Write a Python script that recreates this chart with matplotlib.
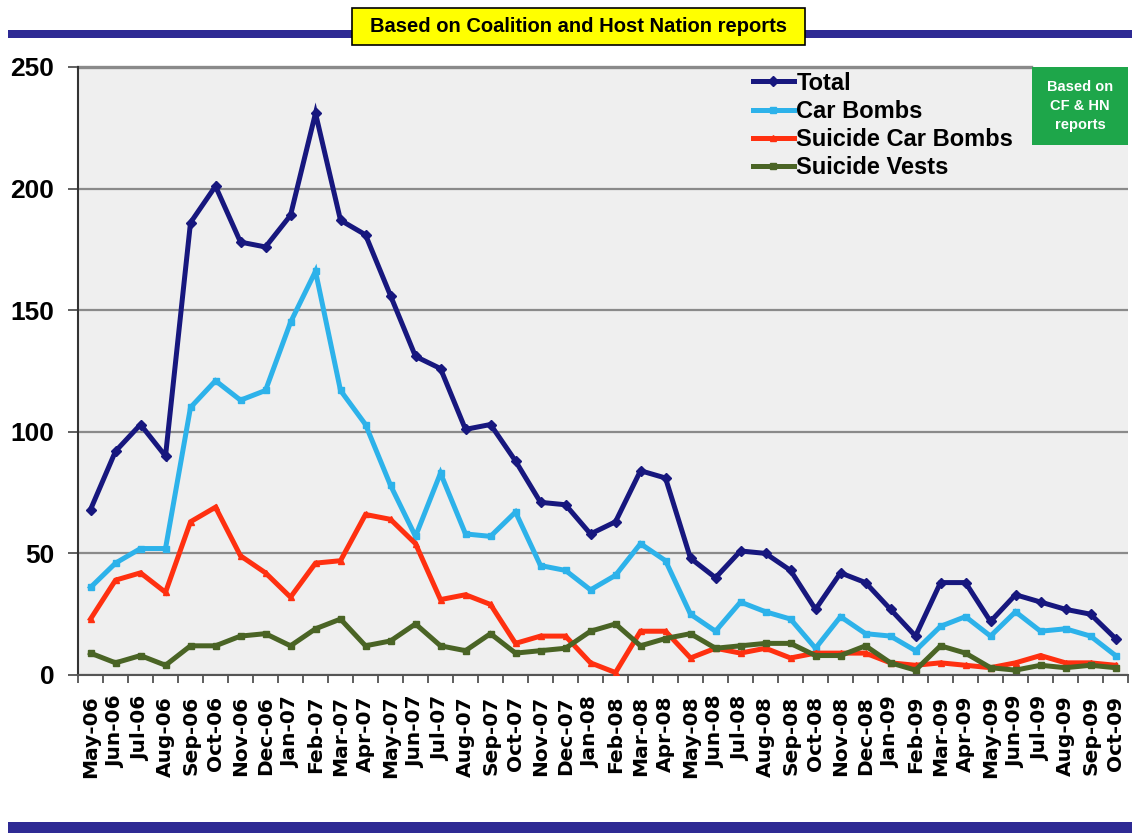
import matplotlib
matplotlib.use("Agg")
import matplotlib.pyplot as plt
from matplotlib.patches import Rectangle

months = ["May-06", "Jun-06", "Jul-06", "Aug-06", "Sep-06", "Oct-06", "Nov-06", "Dec-06",
          "Jan-07", "Feb-07", "Mar-07", "Apr-07", "May-07", "Jun-07", "Jul-07", "Aug-07",
          "Sep-07", "Oct-07", "Nov-07", "Dec-07", "Jan-08", "Feb-08", "Mar-08", "Apr-08",
          "May-08", "Jun-08", "Jul-08", "Aug-08", "Sep-08", "Oct-08", "Nov-08", "Dec-08",
          "Jan-09", "Feb-09", "Mar-09", "Apr-09", "May-09", "Jun-09", "Jul-09", "Aug-09",
          "Sep-09", "Oct-09"]

total = [68, 92, 103, 90, 186, 201, 178, 176, 189, 231, 187, 181, 156, 131, 126, 101,
         103, 88, 71, 70, 58, 63, 84, 81, 48, 40, 51, 50, 43, 27, 42, 38,
         27, 16, 38, 38, 22, 33, 30, 27, 25, 15]
car_bombs = [36, 46, 52, 52, 110, 121, 113, 117, 145, 166, 117, 103, 78, 57, 83, 58,
             57, 67, 45, 43, 35, 41, 54, 47, 25, 18, 30, 26, 23, 11, 24, 17,
             16, 10, 20, 24, 16, 26, 18, 19, 16, 8]
suicide_car_bombs = [23, 39, 42, 34, 63, 69, 49, 42, 32, 46, 47, 66, 64, 54, 31, 33,
                     29, 13, 16, 16, 5, 1, 18, 18, 7, 11, 9, 11, 7, 9, 9, 9,
                     5, 4, 5, 4, 3, 5, 8, 5, 5, 4]
suicide_vests = [9, 5, 8, 4, 12, 12, 16, 17, 12, 19, 23, 12, 14, 21, 12, 10,
                 17, 9, 10, 11, 18, 21, 12, 15, 17, 11, 12, 13, 13, 8, 8, 12,
                 5, 2, 12, 9, 3, 2, 4, 3, 4, 3]

series_names = ["Total", "Car Bombs", "Suicide Car Bombs", "Suicide Vests"]
y_ticks = [0, 50, 100, 150, 200, 250]

plt.rcParams['font.family'] = ['Liberation Sans', 'DejaVu Sans']

fig = plt.figure(figsize=(11.32, 8.33), dpi=100)
fig.patch.set_facecolor("white")

W, H = 1132, 833
ax = fig.add_axes([78 / W, (H - 675) / H, (1128 - 78) / W, (675 - 67) / H])
ax.set_facecolor("#EFEFEF")

x = list(range(len(months)))
colors = ["#17177E", "#2DB2EA", "#FF3010", "#4A6425"]
markers = ["D", "s", "^", "s"]
data = [total, car_bombs, suicide_car_bombs, suicide_vests]
for vals, c, m, name in zip(data, colors, markers, series_names):
    ax.plot(x, vals, color=c, lw=3.6, marker=m, ms=5, mfc=c, mec=c,
            label=name, solid_joinstyle="miter", zorder=3)

ax.set_xlim(-0.5, len(months) - 0.5)
ax.set_ylim(0, 250)
ax.set_yticks(y_ticks)
ax.set_yticklabels([str(v) for v in y_ticks], fontsize=19, fontweight="bold")
ax.yaxis.grid(True, color="#8A8A8A", lw=1.6, zorder=1)
ax.set_axisbelow(True)

ax.set_xticks(x)
ax.set_xticklabels(months, rotation=90, fontsize=14.5, fontweight="bold",
                   family=["DejaVu Sans"])
ax.set_xticks([i - 0.5 for i in range(len(months) + 1)], minor=True)
ax.tick_params(axis="x", which="major", length=0, pad=15)
ax.tick_params(axis="x", which="minor", length=6, width=1.2, color="#444444", direction="out")
ax.tick_params(axis="y", length=7, width=1.2, color="#444444", pad=10)

for s in ["top", "right"]:
    ax.spines[s].set_visible(False)
ax.spines["left"].set_color("#333333")
ax.spines["left"].set_linewidth(1.5)
ax.spines["bottom"].set_color("#555555")
ax.spines["bottom"].set_linewidth(1.5)

# top gridline at 250 stops before green box
ax.yaxis.get_gridlines()[-1].set_visible(False)
ax.plot([-0.5, 37.6], [250, 250], color="#8A8A8A", lw=2.4, zorder=2, clip_on=False)

leg = ax.legend(loc="upper left", bbox_to_anchor=(0.638, 1.0), frameon=False,
                prop={"weight": "bold", "size": 17}, handlelength=1.75,
                handletextpad=0.1, labelspacing=0.22, borderaxespad=0.0,
                borderpad=0.2)

# green box
fig.patches.append(Rectangle((1032 / W, (H - 145) / H), 96 / W, 78 / H,
                             transform=fig.transFigure, facecolor="#1EA64A",
                             edgecolor="none", zorder=5))
fig.text(1080 / W, (H - 106) / H, "Based on\nCF & HN\nreports", ha="center", va="center",
         color="white", fontsize=10.5, fontweight="bold", linespacing=1.45, zorder=6)

# top and bottom navy bars
fig.patches.append(Rectangle((8 / W, (H - 38) / H), (W - 8) / W, 8 / H,
                             transform=fig.transFigure, facecolor="#2E2A94",
                             edgecolor="none", zorder=1))
fig.patches.append(Rectangle((8 / W, 0), (W - 8) / W, 11 / H,
                             transform=fig.transFigure, facecolor="#2E2A94",
                             edgecolor="none", zorder=1))

# yellow banner
fig.patches.append(Rectangle((352 / W, (H - 45) / H), (805 - 352) / W, 37 / H,
                             transform=fig.transFigure, facecolor="#FFFF00",
                             edgecolor="black", lw=1.2, zorder=4))
fig.text(578 / W, (H - 26) / H, "Based on Coalition and Host Nation reports",
         ha="center", va="center", fontsize=14.5, fontweight="bold", zorder=5)

fig.savefig("out.png", dpi=100, facecolor="white")
